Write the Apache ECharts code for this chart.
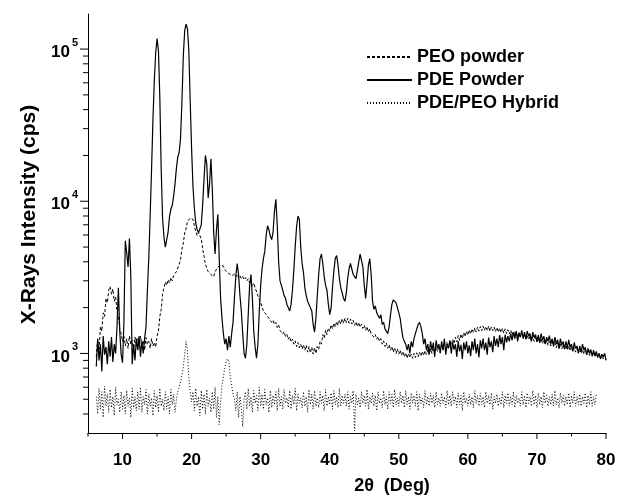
<!DOCTYPE html>
<html>
<head>
<meta charset="utf-8">
<script src="https://cdn.jsdelivr.net/npm/echarts@6/dist/echarts.min.js"></script>
<style>
  html, body { margin: 0; padding: 0; background: #fff; }
  #chart { width: 617px; height: 495px; }
</style>
</head>
<body>
<div id="chart"></div>
<script>
// 2theta grid of the scans: 6.2 .. 80.0 deg, one reading every 0.2 deg
var angleStart = 6.2
var angleStep = 0.2

// PEO powder (dashed), counts per second, rows of 2 deg
var peoPowder = [
  950, 1250, 1050, 1500, 1400, 1850, 1750, 2300, 2150, 2600,
  2750, 2450, 2650, 2200, 2350, 1900, 1750, 1450, 1350, 1200,
  1300, 1120, 1250, 1080, 1300, 1150, 1220, 1050, 1280, 1130,
  1250, 1080, 1300, 1120, 1220, 1050, 1270, 1150, 1200, 1080,
  1250, 1120, 1180, 1100, 1300, 1400, 1750, 1950, 2450, 2700,
  2950, 2800, 3050, 2900, 3150, 3000, 3250, 3200, 3450, 3550,
  3850, 4150, 4850, 5300, 6200, 6600, 7350, 7400, 7750, 7550,
  7600, 6900, 6350, 5950, 6250, 6350, 5650, 4850, 4350, 3850,
  3750, 3450, 3450, 3300, 3350, 3200, 3450, 3500, 3700, 3650,
  3800, 3700, 3750, 3550, 3600, 3400, 3500, 3300, 3400, 3250,
  3350, 3200, 3300, 3150, 3250, 3100, 3200, 3050, 3150, 3000,
  3100, 2900, 2950, 2800, 2900, 2700, 2650, 2400, 2350, 2150,
  2100, 1900, 1950, 1800, 1850, 1700, 1750, 1600, 1650, 1550,
  1600, 1480, 1540, 1420, 1460, 1340, 1390, 1290, 1330, 1240,
  1290, 1190, 1240, 1150, 1210, 1110, 1180, 1090, 1150, 1070,
  1140, 1050, 1130, 1020, 1110, 1010, 1100, 990, 1090, 1000,
  1110, 1060, 1200, 1150, 1330, 1260, 1420, 1330, 1470, 1400,
  1540, 1450, 1580, 1490, 1620, 1530, 1660, 1560, 1690, 1580,
  1700, 1590, 1700, 1580, 1680, 1560, 1650, 1530, 1610, 1500,
  1600, 1490, 1560, 1460, 1530, 1420, 1500, 1380, 1450, 1340,
  1380, 1280, 1330, 1240, 1290, 1200, 1250, 1150, 1210, 1110,
  1170, 1080, 1140, 1050, 1110, 1020, 1090, 1000, 1070, 990,
  1050, 970, 1030, 950, 1010, 930, 1000, 940, 990, 930,
  1000, 940, 1010, 950, 1020, 960, 1030, 970, 1040, 980,
  1060, 990, 1070, 1000, 1080, 1010, 1100, 1030, 1110, 1050,
  1130, 1060, 1150, 1080, 1180, 1100, 1210, 1130, 1240, 1160,
  1280, 1190, 1310, 1220, 1340, 1250, 1370, 1290, 1400, 1320,
  1430, 1340, 1450, 1370, 1470, 1380, 1490, 1400, 1500, 1410,
  1510, 1420, 1500, 1410, 1510, 1400, 1490, 1410, 1490, 1390,
  1480, 1380, 1470, 1370, 1460, 1360, 1450, 1350, 1430, 1340,
  1420, 1320, 1400, 1310, 1390, 1290, 1370, 1280, 1350, 1260,
  1340, 1240, 1320, 1230, 1300, 1210, 1290, 1200, 1270, 1190,
  1260, 1170, 1250, 1160, 1230, 1150, 1220, 1130, 1200, 1120,
  1190, 1110, 1180, 1090, 1170, 1080, 1150, 1070, 1140, 1060,
  1130, 1050, 1120, 1040, 1110, 1030, 1090, 1020, 1080, 1010,
  1070, 1000, 1060, 990, 1050, 980, 1040, 970, 1030, 960,
  1020, 950, 1010, 940, 1000, 930, 990, 920, 980, 910
]

// PDE powder (solid)
var pdePowder = [
  820, 1250, 900, 1150, 760, 1300, 980, 1100, 850, 1200,
  950, 1280, 880, 1150, 1000, 1500, 2700, 1400, 980, 870,
  1600, 5500, 4600, 3700, 5700, 3200, 850, 1150, 900, 1250,
  1050, 1300, 950, 1200, 1000, 1250, 1500, 2600, 4200, 8000,
  16000, 34000, 62000, 95000, 117000, 98000, 48000, 16000, 7700, 5800,
  5000, 4900, 6300, 7900, 8900, 9400, 10800, 13000, 16500, 19500,
  21000, 26000, 45000, 90000, 132000, 146000, 136000, 98000, 45000, 22000,
  12500, 9000, 7200, 6500, 6200, 6100, 7000, 9500, 14000, 20000,
  17500, 10500, 13000, 19000, 12000, 6200, 4500, 6500, 8200, 4200,
  2300, 1700, 1350, 1150, 1250, 1050, 1300, 1100, 1350, 1600,
  2300, 3200, 3900, 3300, 2400, 1900, 1350, 1000, 930, 1150,
  1800, 2800, 3300, 2300, 1400, 1100, 930, 1150, 1900, 2800,
  3600, 4200, 4700, 6000, 6900, 6500, 5900, 5600, 6300, 8600,
  10300, 7000, 4000, 3000, 2800, 2600, 2400, 2300, 2100, 2000,
  1900, 2100, 2600, 3500, 5000, 6800, 8000, 7600, 5000, 3900,
  3400, 2700, 2400, 2200, 2100, 2000, 1900, 1550, 1380, 1700,
  2400, 3300, 4200, 4500, 3900, 3200, 2800, 2600, 2100, 1800,
  2000, 2700, 3500, 4200, 4400, 3800, 3100, 2700, 2500, 2300,
  2200, 2500, 3100, 3600, 3900, 3800, 3300, 3200, 3100, 3500,
  4000, 4500, 4600, 3700, 2800, 2300, 2900, 3800, 4200, 3300,
  2200, 1950, 2050, 1850, 1900, 1700, 1800, 1550, 1600, 1450,
  1400, 1350, 1500, 1800, 2100, 2250, 2300, 2150, 2000, 1850,
  1700, 1450, 1270, 1200, 1150, 1050, 1150, 1000, 1200, 1100,
  1250, 1350, 1450, 1550, 1600, 1500, 1350, 1150, 1250, 1050,
  1150, 980, 1200, 1050, 1180, 950, 1220, 1080, 1150, 1000,
  1200, 1050, 1250, 980, 1150, 1080, 1220, 1000, 1180, 1060,
  1150, 950, 1200, 1030, 1140, 920, 1180, 1050, 1200, 1000,
  1130, 960, 1200, 1050, 1250, 1000, 1150, 940, 1220, 1080,
  1250, 1050, 1180, 980, 1270, 1100, 1200, 1020, 1300, 1120,
  1250, 1100, 1320, 1150, 1280, 1050, 1330, 1180, 1300, 1200,
  1350, 1220, 1380, 1250, 1400, 1200, 1360, 1280, 1420, 1250,
  1380, 1240, 1400, 1300, 1350, 1200, 1380, 1270, 1330, 1200,
  1320, 1180, 1350, 1220, 1300, 1150, 1280, 1200, 1310, 1150,
  1250, 1120, 1280, 1150, 1230, 1080, 1250, 1130, 1200, 1070,
  1200, 1080, 1230, 1100, 1150, 1030, 1180, 1080, 1120, 1000,
  1120, 1020, 1150, 1050, 1100, 980, 1080, 1000, 1060, 960,
  1050, 960, 1030, 940, 1000, 920, 980, 950, 1000, 900
]

// PDE/PEO hybrid (dotted), scan stops at 78.6 deg
var hybrid = [
  520, 400, 590, 430, 560, 380, 610, 450, 540, 410,
  580, 440, 520, 390, 600, 460, 500, 410, 560, 430,
  530, 400, 570, 450, 510, 380, 590, 440, 520, 420,
  560, 430, 600, 410, 520, 460, 580, 400, 540, 450,
  510, 390, 570, 440, 530, 410, 590, 450, 500, 420,
  560, 430, 520, 400, 580, 460, 540, 410, 500, 560,
  600, 650, 720, 820, 980, 1200, 1050, 700, 560, 480,
  560, 420, 590, 450, 520, 390, 570, 430, 540, 400,
  580, 450, 510, 410, 560, 430, 600, 380, 520, 340,
  480, 620, 700, 800, 880, 920, 880, 700, 620, 540,
  500, 420, 560, 380, 520, 440, 330, 500, 560, 430,
  590, 450, 520, 410, 570, 470, 530, 420, 600, 450,
  540, 430, 580, 460, 510, 410, 570, 440, 530, 460,
  560, 420, 590, 450, 520, 430, 580, 470, 510, 440,
  570, 430, 530, 460, 590, 420, 540, 470, 510, 440,
  560, 450, 520, 410, 580, 460, 540, 430, 570, 450,
  510, 440, 560, 470, 530, 420, 580, 450, 520, 460,
  550, 430, 570, 460, 520, 440, 590, 450, 530, 470,
  540, 450, 560, 430, 520, 470, 570, 310, 540, 460,
  510, 440, 560, 470, 530, 450, 580, 430, 520, 470,
  550, 450, 530, 420, 560, 470, 510, 440, 570, 460,
  520, 430, 560, 470, 540, 440, 580, 460, 510, 450,
  560, 470, 530, 440, 570, 460, 520, 430, 550, 470,
  530, 450, 560, 420, 540, 470, 510, 440, 570, 460,
  520, 450, 550, 470, 530, 440, 560, 460, 510, 450,
  550, 470, 520, 440, 570, 460, 530, 450, 560, 470,
  520, 440, 550, 460, 530, 420, 560, 470, 510, 450,
  540, 460, 520, 440, 570, 470, 530, 450, 550, 460,
  520, 440, 560, 470, 530, 460, 550, 430, 520, 470,
  540, 450, 510, 460, 560, 440, 530, 470, 550, 450,
  520, 460, 560, 440, 530, 470, 510, 450, 560, 460,
  530, 440, 550, 470, 520, 450, 570, 460, 530, 440,
  550, 460, 520, 440, 560, 470, 530, 450, 520, 460,
  540, 450, 570, 460, 510, 440, 550, 470, 530, 450,
  520, 460, 550, 440, 530, 470, 560, 450, 520, 460,
  540, 450, 520, 470, 550, 440, 530, 460, 560, 450,
  520, 460, 540
]

// axes
var xMin = 5
var xMax = 80
var yMin = 300
var yMax = 170000
var xMajorTicks = [10, 20, 30, 40, 50, 60, 70, 80]
var xMinorTicks = [5, 15, 25, 35, 45, 55, 65, 75]
var yMajorTicks = [1000, 10000, 100000]
var yMinorTicks = [400, 500, 600, 700, 800, 900,
  2000, 3000, 4000, 5000, 6000, 7000, 8000, 9000,
  20000, 30000, 40000, 50000, 60000, 70000, 80000, 90000]

var fontFamily = '"Liberation Sans", Arial, sans-serif'

function toPoints (values) {
  return values.map(function (v, i) {
    return [+(angleStart + i * angleStep).toFixed(1), v]
  })
}

// short tick marks drawn through the axes' own scales
function tickSeries (points, len, vertical) {
  return {
    type: 'custom',
    silent: true,
    clip: false,
    z: 5,
    data: points,
    renderItem: function (params, api) {
      var p = api.coord([api.value(0), api.value(1)])
      var shape = vertical
        ? { x1: p[0], y1: p[1], x2: p[0], y2: p[1] + len }
        : { x1: p[0] - len, y1: p[1], x2: p[0], y2: p[1] }
      return { type: 'line', shape: shape, style: { stroke: '#000', lineWidth: 1 } }
    }
  }
}

function scanSeries (name, values, dash, width) {
  return {
    name: name,
    type: 'line',
    data: toPoints(values),
    symbol: 'none',
    showSymbol: false,
    lineStyle: { color: '#000', width: width, type: dash },
    itemStyle: { color: '#000' },
    z: 3
  }
}

var myChart = echarts.init(document.getElementById('chart'))
var option = {
  animation: false,
  backgroundColor: '#fff',
  textStyle: { fontFamily: fontFamily, color: '#000' },
  grid: { left: 88, right: 11, top: 14, bottom: 62, outerBoundsMode: 'none' },
  legend: {
    data: ['PEO powder', 'PDE Powder', 'PDE/PEO Hybrid'],
    orient: 'vertical',
    left: 361,
    top: 43,
    itemWidth: 45,
    itemHeight: 14,
    itemGap: 5,
    itemStyle: { opacity: 0 },
    textStyle: { fontFamily: fontFamily, fontSize: 18, fontWeight: 'bold', color: '#000' }
  },
  xAxis: {
    type: 'value',
    min: xMin,
    max: xMax,
    interval: 5,
    name: '2θ  (Deg)',
    nameLocation: 'middle',
    nameGap: 44,
    nameTextStyle: { fontFamily: fontFamily, fontSize: 18, fontWeight: 'bold', color: '#000', padding: [0, 0, 0, 90] },
    axisLine: { onZero: false, lineStyle: { color: '#000', width: 1 } },
    axisTick: { show: false },
    splitLine: { show: false },
    axisLabel: {
      margin: 19,
      fontFamily: fontFamily,
      fontSize: 17,
      fontWeight: 'bold',
      color: '#000',
      formatter: function (v) { return v % 10 === 0 ? String(v) : '' }
    }
  },
  yAxis: {
    type: 'log',
    logBase: 10,
    min: yMin,
    max: yMax,
    name: 'X-Rays Intensity (cps)',
    nameLocation: 'middle',
    nameGap: 45,
    nameTextStyle: { fontFamily: fontFamily, fontSize: 21, fontWeight: 'bold', color: '#000', padding: [0, 0, 0, 18] },
    axisLine: { show: true, lineStyle: { color: '#000', width: 1 } },
    axisTick: { show: false },
    splitLine: { show: false },
    axisLabel: {
      margin: 10,
      color: '#000',
      formatter: function (v) {
        var e = Math.round(Math.log(v) / Math.LN10)
        if (Math.abs(v - Math.pow(10, e)) > v * 1e-6) return ''
        return '{b|10}{s|' + e + '}'
      },
      rich: {
        b: { fontFamily: fontFamily, fontSize: 17, fontWeight: 'bold', color: '#000', lineHeight: 24, verticalAlign: 'bottom' },
        s: { fontFamily: fontFamily, fontSize: 11, fontWeight: 'bold', color: '#000', lineHeight: 24, verticalAlign: 'top', padding: [0, 0, 0, 2] }
      }
    }
  },
  series: [
    scanSeries('PEO powder', peoPowder, [3, 2], 1),
    scanSeries('PDE Powder', pdePowder, 'solid', 1.2),
    scanSeries('PDE/PEO Hybrid', hybrid, [1, 2], 1),
    tickSeries(xMajorTicks.map(function (v) { return [v, yMin] }), 6, true),
    tickSeries(xMinorTicks.map(function (v) { return [v, yMin] }), 3.5, true),
    tickSeries(yMajorTicks.map(function (v) { return [xMin, v] }), 8, false),
    tickSeries(yMinorTicks.map(function (v) { return [xMin, v] }), 5, false)
  ]
}
myChart.setOption(option)
</script>
</body>
</html>
